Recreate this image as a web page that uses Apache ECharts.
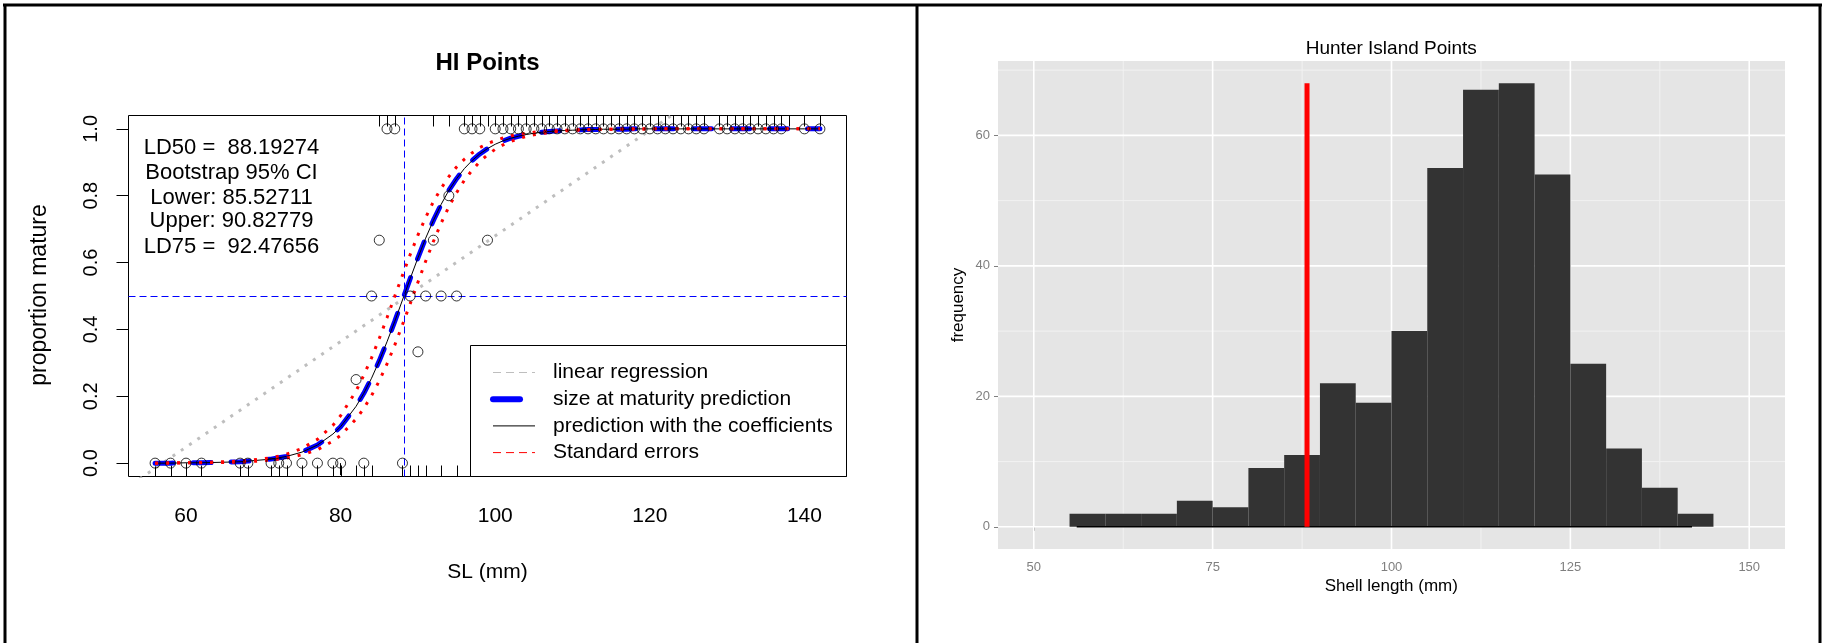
<!DOCTYPE html>
<html><head><meta charset="utf-8">
<script src="https://cdn.jsdelivr.net/npm/echarts@6/dist/echarts.min.js"></script>
<style>html,body{margin:0;padding:0;background:#fff;}#c{width:1824px;height:643px;}</style>
</head><body><div id="c"></div>
<script>
const FONT = '"Liberation Sans", Arial, Helvetica, sans-serif';

// ---------- Left panel: HI Points (maturity ogive) ----------
const slValues = [56,58,60,62,67,68,71,72,73,75,77,79,80,82,83,84,85,86,87,88,89,90,91,92,93,94,95,96,97,98,99,
  100,101,102,103,104,105,106,107,108,109,110,111,112,113,114,115,116,117,118,119,120,121,122,123,124,125,126,127,
  129,130,131,132,133,134,135,136,137,140,142];
const propMature = [0,0,0,0,0,0,0,0,0,0,0,0,0,0.25,0,0.5,0.667,1,1,0,0.5,0.333,0.5,0.667,0.5,0.8,0.5,1,1,1,0.667,
  1,1,1,1,1,1,1,1,1,1,1,1,1,1,1,1,1,1,1,1,1,1,1,1,1,1,1,1,
  1,1,1,1,1,1,1,1,1,1,1];
const predFit = [0.000,0.000,0.001,0.001,0.004,0.006,0.012,0.016,0.020,0.033,0.054,0.087,0.109,0.170,0.209,0.254,0.306,0.363,0.424,0.488,0.552,0.614,0.673,0.726,0.774,0.816,0.851,0.881,0.905,0.925,0.941,
  0.954,0.964,0.972,0.978,0.983,0.987,0.990,0.992,0.994,0.995,0.996,0.997,0.998,0.998,0.999,0.999,0.999,0.999,1,1,1,1,1,1,1,1,1,1,
  1,1,1,1,1,1,1,1,1,1,1];
const seUpper = [0.000,0.001,0.001,0.002,0.006,0.008,0.016,0.021,0.027,0.044,0.071,0.113,0.142,0.216,0.263,0.315,0.373,0.435,0.499,0.562,0.624,0.682,0.735,0.782,0.822,0.857,0.886,0.909,0.928,0.944,0.956,
  0.965,0.973,0.979,0.984,0.987,0.990,0.992,0.994,0.995,0.996,0.997,0.998,0.998,0.999,0.999,0.999,0.999,1,1,1,1,1,1,1,1,1,1,1,
  1,1,1,1,1,1,1,1,1,1,1];
const seLower = [0.000,0.000,0.001,0.001,0.003,0.004,0.009,0.012,0.015,0.025,0.040,0.066,0.083,0.132,0.164,0.202,0.246,0.297,0.353,0.414,0.477,0.541,0.604,0.663,0.718,0.767,0.809,0.846,0.876,0.902,0.922,
  0.939,0.952,0.962,0.971,0.977,0.982,0.986,0.989,0.992,0.994,0.995,0.996,0.997,0.998,0.998,0.999,0.999,0.999,0.999,0.999,1,1,1,1,1,1,1,1,
  1,1,1,1,1,1,1,1,1,1,1];
const rugImmature = [56,58,60,62,67,68,71,72,73,75,77,79,80,82,83,84,88,89,90,91,93,95];
const rugMature = [85,86,87,92,94,96,97,98,99,100,101,102,103,104,105,106,107,108,109,110,111,112,113,114,115,116,117,118,119,120,121,122,123,124,125,126,127,
  129,130,131,132,133,134,135,136,137,138,140,142];
const linRegX = [54, 124];
const linRegY = [-0.047, 1.059];
const ld50 = 88.19274;
const halfLine = 0.5;
const leftXTicks = [60, 80, 100, 120, 140];
const leftYTicks = [0, 0.2, 0.4, 0.6, 0.8, 1.0];
const annotLines = ['LD50 =  88.19274', 'Bootstrap 95% CI', 'Lower: 85.52711', 'Upper: 90.82779', 'LD75 =  92.47656'];
const legendNames = ['linear regression', 'size at maturity prediction', 'prediction with the coefficients', 'Standard errors'];

// ---------- Right panel: Hunter Island Points histogram ----------
const binStarts = [55,60,65,70,75,80,85,90,95,100,105,110,115,120,125,130,135,140];
const binCounts = [2,2,2,4,3,9,11,22,19,30,55,67,68,54,25,12,6,2];
const binWidth = 5;
const densityX = [56, 142];
const densityY = [0, 0];
const redLineY = [0, 68];
const rightXTicks = [50, 75, 100, 125, 150];
const rightXMinor = [62.5, 87.5, 112.5, 137.5];
const rightYTicks = [0, 20, 40, 60];
const rightYMinor = [10, 30, 50, 70];

const zip = (a, b) => a.map((v, i) => [v, b[i]]);

function vLines(values, color, width, z) {
  return { type: 'custom', xAxisIndex: 1, yAxisIndex: 1, z: z, silent: true,
    data: values.map(v => [v, 0]),
    renderItem(params, api) {
      const cs = params.coordSys;
      const x = api.coord([api.value(0), 0])[0];
      return { type: 'line', shape: { x1: x, y1: cs.y, x2: x, y2: cs.y + cs.height }, style: { stroke: color, lineWidth: width } };
    } };
}
function hLines(values, color, width, z) {
  return { type: 'custom', xAxisIndex: 1, yAxisIndex: 1, z: z, silent: true,
    data: values.map(v => [100, v]),
    renderItem(params, api) {
      const cs = params.coordSys;
      const y = api.coord([100, api.value(1)])[1];
      return { type: 'line', shape: { x1: cs.x, y1: y, x2: cs.x + cs.width, y2: y }, style: { stroke: color, lineWidth: width } };
    } };
}

const chart = echarts.init(document.getElementById('c'), null, { renderer: 'canvas' });

const graphics = [
  // frame
  { type: 'line', shape: { x1: 3, y1: 5, x2: 1822, y2: 5 }, style: { stroke: '#000', lineWidth: 3 }, z: 20 },
  { type: 'line', shape: { x1: 5, y1: 4, x2: 5, y2: 643 }, style: { stroke: '#000', lineWidth: 3 }, z: 20 },
  { type: 'line', shape: { x1: 1820, y1: 4, x2: 1820, y2: 643 }, style: { stroke: '#000', lineWidth: 3 }, z: 20 },
  { type: 'line', shape: { x1: 917, y1: 4, x2: 917, y2: 643 }, style: { stroke: '#000', lineWidth: 3 }, z: 20 },
  // legend box
  { type: 'rect', shape: { x: 470.5, y: 345.5, width: 376, height: 131 }, style: { fill: '#fff', stroke: '#000', lineWidth: 1 }, z: 3 },
  // left titles
  { type: 'text', x: 487.5, y: 63.5, style: { text: 'HI Points', font: 'bold 24px ' + FONT, fill: '#000', align: 'center', verticalAlign: 'middle', textAlign: 'center', textVerticalAlign: 'middle' }, z: 20 },
  { type: 'text', x: 487.5, y: 572, style: { text: 'SL (mm)', font: '21px ' + FONT, fill: '#000', align: 'center', verticalAlign: 'middle', textAlign: 'center', textVerticalAlign: 'middle' }, z: 20 },
  { type: 'text', x: 40, y: 295, rotation: Math.PI / 2, style: { text: 'proportion mature', font: '23px ' + FONT, fill: '#000', align: 'center', verticalAlign: 'middle', textAlign: 'center', textVerticalAlign: 'middle' }, z: 20 },
  // right titles
  { type: 'text', x: 1391.3, y: 48.5, style: { text: 'Hunter Island Points', font: '19px ' + FONT, fill: '#000', align: 'center', verticalAlign: 'middle', textAlign: 'center', textVerticalAlign: 'middle' }, z: 20 },
  { type: 'text', x: 1391.3, y: 586.5, style: { text: 'Shell length (mm)', font: '17px ' + FONT, fill: '#000', align: 'center', verticalAlign: 'middle', textAlign: 'center', textVerticalAlign: 'middle' }, z: 20 },
  { type: 'text', x: 958, y: 305, rotation: Math.PI / 2, style: { text: 'frequency', font: '17px ' + FONT, fill: '#000', align: 'center', verticalAlign: 'middle', textAlign: 'center', textVerticalAlign: 'middle' }, z: 20 }
];
const annotY = [147.5, 172.5, 197.5, 220.5, 246.5];
annotLines.forEach((t, i) => graphics.push({ type: 'text', x: 231.5, y: annotY[i],
  style: { text: t, font: '22px ' + FONT, fill: '#000', align: 'center', verticalAlign: 'middle', textAlign: 'center', textVerticalAlign: 'middle' }, z: 20 }));

const hiddenSymbol = { color: 'rgba(0,0,0,0)', borderColor: 'rgba(0,0,0,0)', borderWidth: 0, opacity: 0 };

const option = {
  animation: false,
  backgroundColor: '#ffffff',
  textStyle: { fontFamily: FONT },
  grid: [
    { left: 128.5, top: 115.5, width: 718, height: 361, show: true, borderColor: '#000', borderWidth: 1, backgroundColor: 'transparent', outerBoundsMode: 'none', containLabel: false },
    { left: 998, top: 61, width: 787, height: 488, show: true, borderWidth: 0, backgroundColor: '#E5E5E5', outerBoundsMode: 'none', containLabel: false }
  ],
  xAxis: [
    { gridIndex: 0, type: 'value', min: 52.56, max: 145.44,
      axisLine: { show: false }, splitLine: { show: false },
      axisTick: { show: true, customValues: leftXTicks, length: 12, inside: false, lineStyle: { color: '#000', width: 1 } },
      axisLabel: { customValues: leftXTicks, fontSize: 21, color: '#000', margin: 29, lineHeight: 21, fontFamily: FONT } },
    { gridIndex: 1, type: 'value', min: 45, max: 155,
      axisLine: { show: false }, splitLine: { show: false },
      axisTick: { show: true, customValues: rightXTicks, length: 4, lineStyle: { color: '#7F7F7F', width: 1 } },
      axisLabel: { customValues: rightXTicks, fontSize: 13, color: '#7F7F7F', margin: 12, lineHeight: 13, fontFamily: FONT } }
  ],
  yAxis: [
    { gridIndex: 0, type: 'value', min: -0.04, max: 1.04,
      axisLine: { show: false }, splitLine: { show: false },
      axisTick: { show: true, customValues: leftYTicks, length: 12, lineStyle: { color: '#000', width: 1 } },
      axisLabel: { customValues: leftYTicks, rotate: 90, fontSize: 20, color: '#000', margin: 27, lineHeight: 20, fontFamily: FONT,
        formatter: v => Number(v).toFixed(1) } },
    { gridIndex: 1, type: 'value', min: -3.4, max: 71.4,
      axisLine: { show: false }, splitLine: { show: false },
      axisTick: { show: true, customValues: rightYTicks, length: 4, lineStyle: { color: '#7F7F7F', width: 1 } },
      axisLabel: { customValues: rightYTicks, fontSize: 13, color: '#7F7F7F', margin: 8, fontFamily: FONT } }
  ],
  legend: {
    orient: 'vertical', left: 490, top: 362, padding: 0, itemWidth: 42, itemHeight: 21, itemGap: 5.7,
    selectedMode: false, z: 10,
    itemStyle: hiddenSymbol,
    textStyle: { fontSize: 21, color: '#000', fontFamily: FONT, lineHeight: 21, padding: [0, 0, 0, 13] },
    data: [
      { name: legendNames[0], itemStyle: hiddenSymbol, lineStyle: { color: '#BEBEBE', width: 1, type: [8, 5] } },
      { name: legendNames[1], itemStyle: hiddenSymbol, lineStyle: { color: '#0000FF', width: 6, type: [27, 100], cap: 'round' } },
      { name: legendNames[2], itemStyle: hiddenSymbol, lineStyle: { color: '#000', width: 1, type: 'solid' } },
      { name: legendNames[3], itemStyle: hiddenSymbol, lineStyle: { color: '#FF0000', width: 1, type: [8, 5] } }
    ]
  },
  graphic: { elements: graphics },
  series: [
    { name: legendNames[0], type: 'line', xAxisIndex: 0, yAxisIndex: 0, data: zip(linRegX, linRegY), symbol: 'none', clip: true, z: 2,
      itemStyle: { color: '#BEBEBE' }, lineStyle: { color: '#BEBEBE', width: 3, type: [3, 7] } },
    { name: legendNames[1], type: 'line', xAxisIndex: 0, yAxisIndex: 0, data: zip(slValues, predFit), symbol: 'none', z: 3,
      itemStyle: { color: '#0000FF' }, lineStyle: { color: '#0000FF', width: 5, type: [18, 20], cap: 'round' } },
    { name: legendNames[2], type: 'line', xAxisIndex: 0, yAxisIndex: 0, data: zip(slValues, predFit), symbol: 'none', z: 4,
      itemStyle: { color: '#000' }, lineStyle: { color: '#000', width: 1 },
      markLine: { silent: true, symbol: ['none', 'none'], label: { show: false },
        lineStyle: { color: '#0000FF', width: 1, type: [7, 4] },
        data: [{ xAxis: ld50 }, { yAxis: halfLine }] } },
    { name: legendNames[3], type: 'line', xAxisIndex: 0, yAxisIndex: 0, data: zip(slValues, seUpper), symbol: 'none', z: 5,
      itemStyle: { color: '#FF0000' }, lineStyle: { color: '#FF0000', width: 3, type: [3, 8] } },
    { name: legendNames[3], type: 'line', xAxisIndex: 0, yAxisIndex: 0, data: zip(slValues, seLower), symbol: 'none', z: 5,
      itemStyle: { color: '#FF0000' }, lineStyle: { color: '#FF0000', width: 3, type: [3, 8] } },
    { name: 'observed', type: 'scatter', xAxisIndex: 0, yAxisIndex: 0, data: zip(slValues, propMature), symbol: 'circle', symbolSize: 10, z: 6,
      itemStyle: { color: 'rgba(0,0,0,0)', borderColor: '#000', borderWidth: 1 } },
    { name: 'rug', type: 'custom', xAxisIndex: 0, yAxisIndex: 0, silent: true, z: 2,
      data: rugMature.map(v => [v, 1]).concat(rugImmature.map(v => [v, 0])),
      renderItem(params, api) {
        const cs = params.coordSys;
        const x = Math.round(api.coord([api.value(0), api.value(1)])[0]) + 0.5;
        const top = api.value(1) === 1;
        const y1 = top ? cs.y : cs.y + cs.height;
        const y2 = top ? y1 + 11 : y1 - 11;
        return { type: 'line', shape: { x1: x, y1: y1, x2: x, y2: y2 }, style: { stroke: '#000', lineWidth: 1 } };
      } },
    // right panel
    vLines(rightXMinor, '#F2F2F2', 1, 1),
    hLines(rightYMinor, '#F2F2F2', 1, 1),
    vLines(rightXTicks, '#FFFFFF', 1.6, 1),
    hLines(rightYTicks, '#FFFFFF', 1.6, 1),
    { name: 'histogram', type: 'custom', xAxisIndex: 1, yAxisIndex: 1, z: 3,
      data: zip(binStarts, binCounts),
      renderItem(params, api) {
        const s = api.value(0), c = api.value(1);
        const p0 = api.coord([s, c]);
        const p1 = api.coord([s + binWidth, 0]);
        return { type: 'rect', shape: { x: p0[0], y: p0[1], width: p1[0] - p0[0], height: p1[1] - p0[1] }, style: { fill: '#333333' } };
      } },
    { name: 'density', type: 'line', xAxisIndex: 1, yAxisIndex: 1, data: zip(densityX, densityY), symbol: 'none', z: 4,
      lineStyle: { color: '#000', width: 1.5 } },
    { name: 'LD50 line', type: 'line', xAxisIndex: 1, yAxisIndex: 1, data: zip([ld50, ld50], redLineY), symbol: 'none', z: 5,
      lineStyle: { color: '#FF0000', width: 5, cap: 'butt' } }
  ]
};
chart.setOption(option);
</script>
</body></html>
